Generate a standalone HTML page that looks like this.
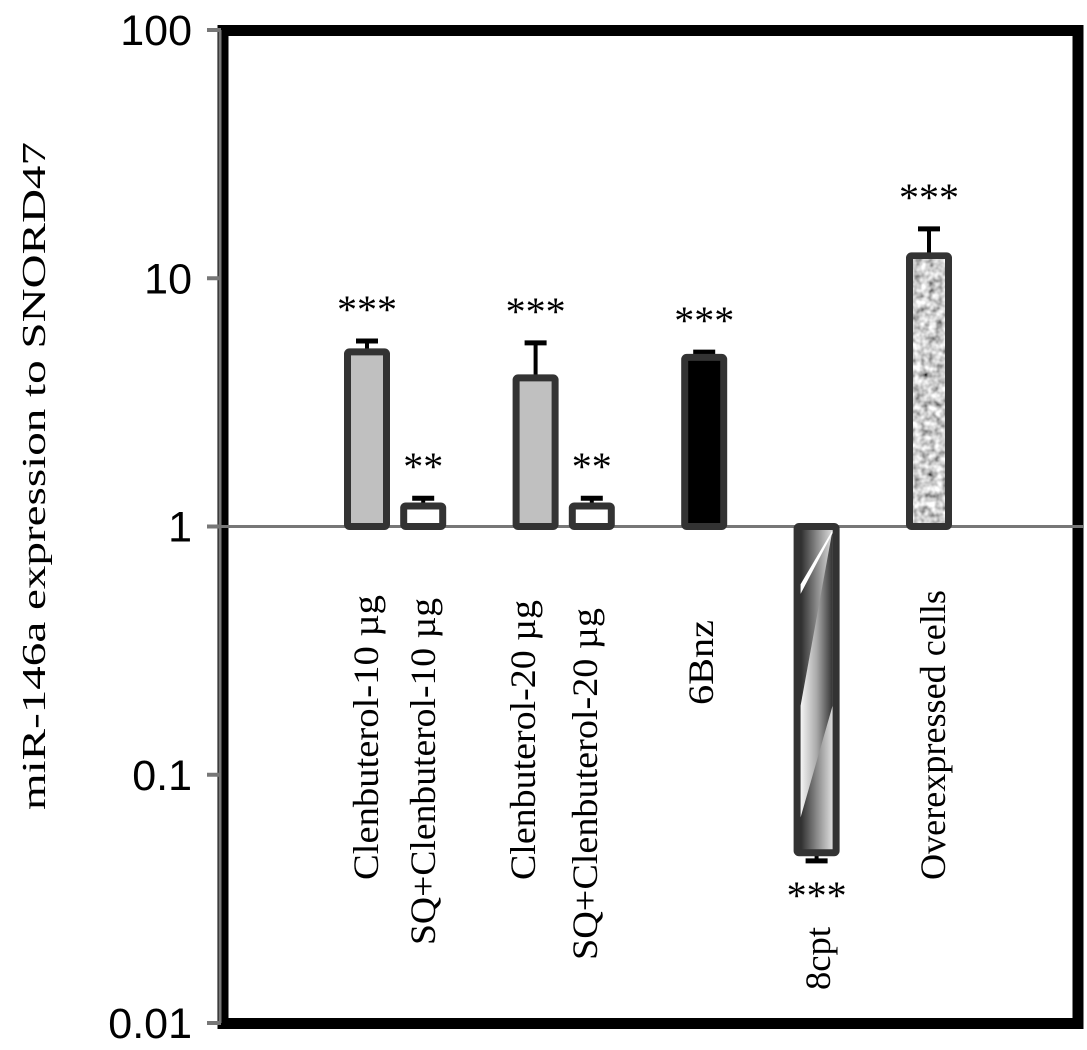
<!DOCTYPE html>
<html><head><meta charset="utf-8"><style>
html,body{margin:0;padding:0;background:#fff;}
svg{display:block;}
text.serif{font-family:"Liberation Serif","Times New Roman",Times,serif;}
text.sans{font-family:"Liberation Sans",Arial,sans-serif;}
</style></head><body>
<svg id="chart" width="1087" height="1050" viewBox="0 0 1087 1050" xmlns="http://www.w3.org/2000/svg">
<defs>
<linearGradient id="hgrad" x1="0" y1="0" x2="1" y2="0">
<stop offset="0" stop-color="#1a1a1a"/><stop offset="0.5" stop-color="#888"/><stop offset="1" stop-color="#f0f0f0"/>
</linearGradient>
<linearGradient id="hgrad2" x1="0" y1="0" x2="1" y2="0">
<stop offset="0" stop-color="#f5f5f5"/><stop offset="0.5" stop-color="#aaa"/><stop offset="1" stop-color="#333"/>
</linearGradient>
<filter id="noise" x="0" y="0" width="100%" height="100%">
<feTurbulence type="fractalNoise" baseFrequency="0.14" numOctaves="2" seed="4"/>
<feColorMatrix type="matrix" values="1.5 0 0 0 -0.12  1.5 0 0 0 -0.12  1.5 0 0 0 -0.12  0 0 0 0 1"/>
</filter>
</defs>
<g id="frame"></g>
<g id="bars"></g>
<g id="labels"></g>
</svg>
<script>
const categories = ["Clenbuterol-10 µg","SQ+Clenbuterol-10 µg","Clenbuterol-20 µg","SQ+Clenbuterol-20 µg","6Bnz","8cpt","Overexpressed cells"];
const values = [5.05, 1.21, 3.97, 1.21, 4.8, 0.0485, 12.3];
const errors = [5.59, 1.30, 5.49, 1.30, 5.04, 0.045, 15.8];
const stars = ["***","**","***","**","***","***","***"];
const slots = [0, 1, 3, 4, 6, 8, 10];
const tickValues = [100, 10, 1, 0.1, 0.01];
const tickLabels = ["100","10","1","0.1","0.01"];
const fills = ["#c0c0c0","#ffffff","#c0c0c0","#ffffff","#000000","url(#hgrad)","#999999"];

const NS = "http://www.w3.org/2000/svg";
const SERIF = "Liberation Serif, Times New Roman, Times, serif";
const Y1 = 526.5, DEC = 248.25;
function y(v){ return Y1 - Math.log10(v) * DEC; }
function x(slot){ return 367 + slot * 56.2; }
function mk(tag, attrs, parent){
  const e = document.createElementNS(NS, tag);
  for (const k in attrs) e.setAttribute(k, attrs[k]);
  parent.appendChild(e);
  return e;
}
const frame = document.getElementById('frame');
const bars = document.getElementById('bars');
const labels = document.getElementById('labels');

let fr = mk('rect', {x:223, y:30.5, width:855, height:993, fill:'none', stroke:'#000', 'stroke-width':11}, frame);


let ax = mk('line', {x1:220, y1:y(100), x2:220, y2:y(0.01), stroke:'#777', 'stroke-width':3}, frame);


let base = mk('line', {x1:220, y1:y(1), x2:1083, y2:y(1), stroke:'#777', 'stroke-width':3}, frame);



tickValues.forEach((v, i) => {
  const t = mk('line', {x1:207, y1:y(v), x2:221, y2:y(v), stroke:'#777', 'stroke-width':4}, frame);
  
  
  const l = mk('text', {x:192, y:y(v)+15, 'text-anchor':'end', class:'sans', 'font-size':43, fill:'#000'}, frame);
  l.textContent = tickLabels[i];
  
  
});

const yt = mk('text', {transform:'translate(45,476) rotate(-90)', 'text-anchor':'middle', class:'serif', 'font-family':SERIF, 'font-size':34, textLength:668, lengthAdjust:'spacingAndGlyphs'}, frame);
yt.textContent = 'miR-146a  expression to SNORD47';



const W = 39;
const labelBottom = [880, 945, 880, 960, 705, 990, 880];
const labelLen = [285, 347, 280, 352, 85, 63, 290];
const labelBase = [378, 435, 535, 597, 713, 830, 945];
categories.forEach((c, i) => {
  const cx = x(slots[i]);
  const v = values[i];
  const top = Math.min(y(v), y(1)), bot = Math.max(y(v), y(1));
  const g = mk('g', {}, bars);
  
  
  const ey = y(errors[i]);
  const edge = v >= 1 ? top : bot;
  const el = mk('line', {x1:cx, y1:edge, x2:cx, y2:ey, stroke:'#000', 'stroke-width':4}, g);
  
  
  const ec = mk('line', {x1:cx-11, y1:ey, x2:cx+11, y2:ey, stroke:'#000', 'stroke-width':5}, g);
  
  
  const r = mk('rect', {x:cx-W/2, y:top, width:W, height:bot-top, fill:fills[i], stroke:'#333', 'stroke-width':7, rx:2}, g);
  
  
  const ix = cx-W/2+3.5, iw = W-7, iy = top+3.5, ih = bot-top-7;
  if (i === 6) {
    const n = mk('rect', {x:ix, y:iy, width:iw, height:ih, filter:'url(#noise)'}, g);
    
    
  }
  if (i === 5) {
    const h = ih;
    const p1 = mk('polygon', {points:[ix+iw,iy, ix+iw,iy+h*0.55, ix,iy+h*0.9, ix,iy+h*0.55].join(' '), fill:'url(#hgrad2)'}, g);
    
    
    const p2 = mk('polygon', {points:[ix+iw,iy, ix+iw,iy+3, ix,iy+h*0.2, ix,iy+h*0.17].join(' '), fill:'#fff'}, g);
    
    
  }
  const sy = v >= 1 ? ey - 18 : ey + 48;
  const s = mk('text', {x:cx, y:sy, 'text-anchor':'middle', class:'serif', 'font-family':SERIF, 'font-size':40}, g);
  s.textContent = stars[i];
  
  
  const lb = mk('text', {transform:'translate(' + labelBase[i] + ',' + labelBottom[i] + ') rotate(-90)', 'text-anchor':'start', class:'serif', 'font-family':SERIF, 'font-size':36, textLength:labelLen[i], lengthAdjust:'spacingAndGlyphs'}, labels);
  lb.textContent = c;
  
  
});
</script>
</body></html>
